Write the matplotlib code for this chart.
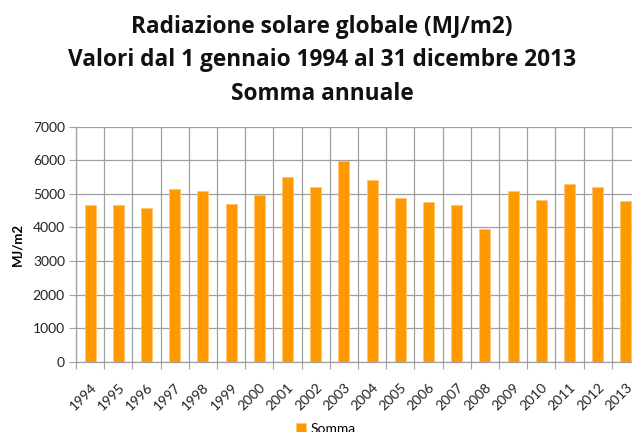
import matplotlib
matplotlib.use('Agg')
import matplotlib.pyplot as plt

years = [str(y) for y in range(1994, 2014)]
somma = [4680, 4660, 4580, 5150, 5070, 4690, 4955, 5510, 5195, 5985,
         5400, 4865, 4765, 4680, 3960, 5085, 4825, 5300, 5195, 4785]
yticks = [0, 1000, 2000, 3000, 4000, 5000, 6000, 7000]

plt.rcParams['font.family'] = ['Lato', 'DejaVu Sans']

fig = plt.figure(figsize=(6.32, 4.32), dpi=100)
# plot area runs past the right edge of the figure
ax = fig.add_axes([76 / 632, 1 - 361.7 / 432, 564 / 632, 235 / 432])

x = list(range(len(years)))
bars = ax.bar(x, somma, width=0.39, color='#FF9900', edgecolor='#FFC470',
              linewidth=0.6, zorder=3, label='Somma')

ax.set_xlim(-0.5, len(years) - 0.5)
ax.set_ylim(0, 7000)
ax.set_yticks(yticks)
ax.set_yticklabels([str(v) for v in yticks], fontsize=10, color='#222222')

ax.set_xticks(x)
ax.set_xticklabels(years, rotation=45, ha='right', rotation_mode='anchor',
                   fontsize=10, color='#222222')
ax.tick_params(axis='x', which='major', length=0, pad=14)
ax.set_xticks([i - 0.5 for i in range(len(years) + 1)], minor=True)
ax.tick_params(axis='x', which='minor', length=5, color='#A0A0A0', width=0.8)
ax.tick_params(axis='y', length=5, color='#A0A0A0', width=0.8, pad=3)

ax.grid(True, axis='y', which='major', color='#A0A0A0', linewidth=0.9, zorder=0)
ax.grid(True, axis='x', which='minor', color='#A0A0A0', linewidth=0.9, zorder=0)
ax.grid(False, axis='x', which='major')
for side in ['top', 'right']:
    ax.spines[side].set_visible(False)
for side in ['left', 'bottom']:
    ax.spines[side].set_color('#A0A0A0')
    ax.spines[side].set_linewidth(0.9)

ax.set_ylabel('MJ/m2', fontsize=9.5, fontweight='bold')
ax.yaxis.set_label_coords(-53 / 564, 0.5)

title_lines = ['Radiazione solare globale (MJ/m2)',
               'Valori dal 1 gennaio 1994 al 31 dicembre 2013',
               'Somma annuale']
for i, line in enumerate(title_lines):
    fig.text(322 / 632, 1 - (33 + 33.5 * i) / 432, line, ha='center',
             va='baseline', fontsize=16.3, fontweight='bold', color='#111111',
             family=['Open Sans', 'DejaVu Sans'])

fig.legend(handles=[bars], labels=['Somma'], loc='center',
           bbox_to_anchor=(326 / 632, 1 - 429 / 432), frameon=False,
           fontsize=10, handlelength=0.7, handleheight=0.7, handletextpad=0.3)

fig.savefig('out.png', dpi=100)
